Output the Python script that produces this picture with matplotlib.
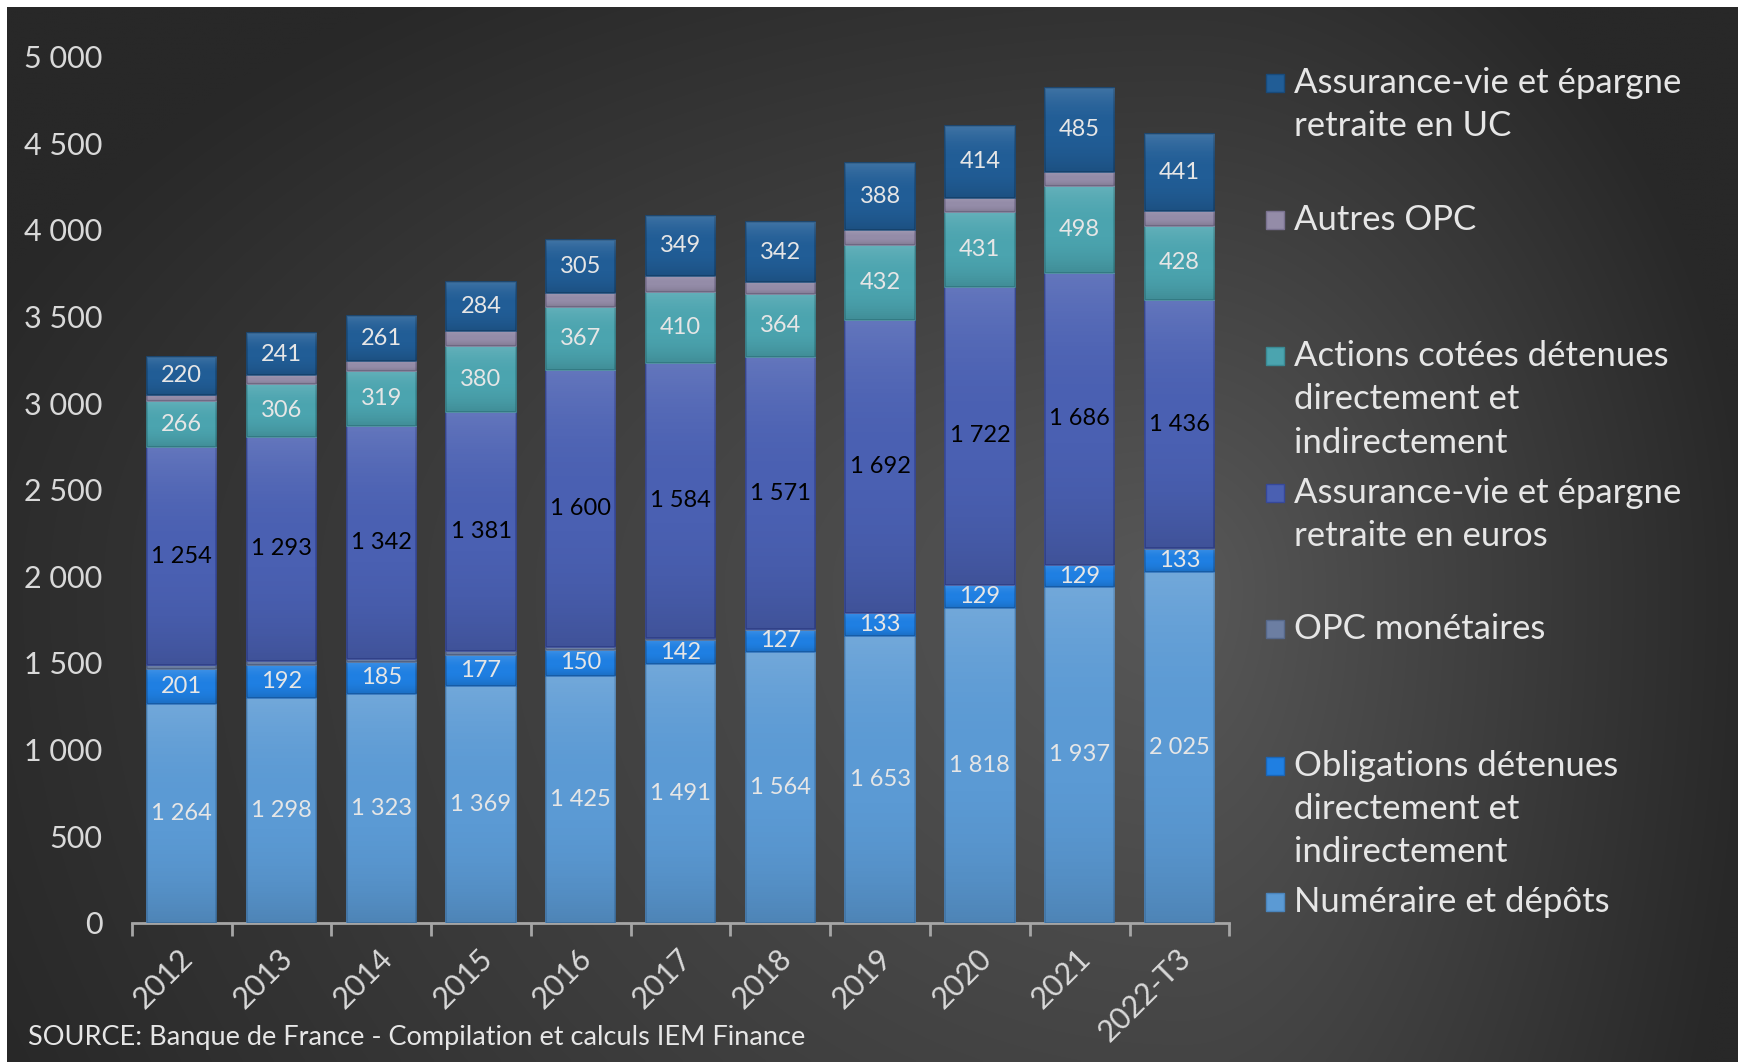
import numpy as np
import matplotlib.pyplot as plt
from matplotlib.patches import Rectangle
from matplotlib.transforms import ScaledTranslation

# data (milliards d'euros)
categories = ['2012', '2013', '2014', '2015', '2016', '2017', '2018', '2019', '2020', '2021', '2022-T3']
numeraire = [1264, 1298, 1323, 1369, 1425, 1491, 1564, 1653, 1818, 1937, 2025]
obligations = [201, 192, 185, 177, 150, 142, 127, 133, 129, 129, 133]
opc_monetaires = [25, 23, 15, 20, 14, 12, 4, 2, 3, 2, 3]
assurance_euros = [1254, 1293, 1342, 1381, 1600, 1584, 1571, 1692, 1722, 1686, 1436]
actions = [266, 306, 319, 380, 367, 410, 364, 432, 431, 498, 428]
autres_opc = [38, 50, 58, 88, 81, 95, 71, 85, 83, 83, 87]
assurance_uc = [220, 241, 261, 284, 305, 349, 342, 388, 414, 485, 441]

series_labels = ['Numéraire et dépôts',
                 'Obligations détenues\ndirectement et\nindirectement',
                 'OPC monétaires',
                 'Assurance-vie et épargne\nretraite en euros',
                 'Actions cotées détenues\ndirectement et\nindirectement',
                 'Autres OPC',
                 'Assurance-vie et épargne\nretraite en UC']
series = [numeraire, obligations, opc_monetaires, assurance_euros, actions, autres_opc, assurance_uc]
colors = ['#5b9ad4', '#1f7fe2', '#6c7ea2', '#4a60b2', '#4ba4af', '#948ca8', '#215d96']
edges = ['#4a84bb', '#1a66b8', '#56688a', '#36489a', '#3a8a94', '#7a7290', '#184a7a']
show_label = [True, True, False, True, True, False, True]
label_color = ['#e6e6e6', '#e6e6e6', None, '#000000', '#e6e6e6', None, '#e6e6e6']

W, H = 1738, 1062
plt.rcParams['font.family'] = ['Lato', 'DejaVu Sans']
fig = plt.figure(figsize=(W / 100, H / 100), dpi=100)
fig.patch.set_facecolor('white')

# dark background with soft radial light
bg = fig.add_axes([7 / W, 0, 1 - 7 / W, 1 - 7 / H])
gx, gy = np.meshgrid(np.linspace(0, 1, 500), np.linspace(0, 1, 300))
cx, cy = 0.68, 0.55
dx = np.where(gx < cx, (gx - cx) / 0.75, (gx - cx) / 0.33)
dy = np.where(gy < cy, (gy - cy) / 0.7, (gy - cy) / 1.1)
r = np.clip(np.sqrt(dx ** 2 + dy ** 2), 0, 1)
val = (0x28 + (0x58 - 0x28) * (1 - r)) / 255
bg.imshow(np.dstack([val, val, val]), aspect='auto', interpolation='bilinear')
bg.axis('off')

ax = fig.add_axes([131.8 / W, 1 - 922.7 / H, (1229.3 - 131.8) / W, (922.7 - 56.7) / H])
ax.set_facecolor('none')

# shading overlay for a soft bevel look: light at top, dark at bottom
shade = np.zeros((64, 1, 4))
t = np.linspace(0, 1, 64)
shade[:, 0, :3] = np.where(t < 0.5, 1.0, 0.0)[:, None]
shade[:, 0, 3] = np.where(t < 0.5, 0.14 * (1 - t / 0.5) ** 2, 0.14 * ((t - 0.5) / 0.5) ** 2)

x = np.arange(len(categories))
bottom = np.zeros(len(categories))
for vals, col, ec, show, lc in zip(series, colors, edges, show_label, label_color):
    vals = np.array(vals, dtype=float)
    bars = ax.bar(x, vals, 0.695, bottom=bottom, color=col, edgecolor=ec, linewidth=1.2, zorder=3)
    for p in bars:
        x0, y0 = p.get_x(), p.get_y()
        im = ax.imshow(shade, extent=[x0, x0 + p.get_width(), y0, y0 + p.get_height()],
                       aspect='auto', zorder=3.5, interpolation='bilinear')
        im.set_clip_path(p)
    if show:
        for xi, b, v in zip(x, bottom, vals):
            ax.text(xi, b + v / 2, f'{int(v):,}'.replace(',', ' '), ha='center', va='center',
                    fontsize=17, color=lc, zorder=4)
    bottom += vals

ax.set_xlim(-0.5, len(categories) - 0.5)
ax.set_ylim(0, 5000)
ax.set_yticks(np.arange(0, 5001, 500))
ax.set_yticklabels([f'{v:,}'.replace(',', ' ') for v in range(0, 5001, 500)])
ax.tick_params(axis='y', length=0, pad=21, labelsize=22, labelcolor='#d9d9d9')
for s in ['top', 'right', 'left']:
    ax.spines[s].set_visible(False)
ax.spines['bottom'].set_color('#a6a6a6')
ax.spines['bottom'].set_linewidth(2)

ax.set_xticks(x)
ax.set_xticklabels(categories, rotation=45, ha='right', va='top', rotation_mode='anchor')
ax.tick_params(axis='x', length=0, pad=15, labelsize=22, labelcolor='#d9d9d9')
ax.set_xticks(np.arange(-0.5, len(categories)), minor=True)
ax.tick_params(axis='x', which='minor', length=9, width=2, color='#a6a6a6', direction='out')
for lab in ax.get_xticklabels():
    lab.set_transform(lab.get_transform() + ScaledTranslation(-3 / 100, 0, fig.dpi_scale_trans))

# legend drawn by hand, top entry first
ys0, step, line_h = 83.1, 136.5, 43.2
for i, k in enumerate(range(len(series) - 1, -1, -1)):
    y_first = ys0 + i * step
    fig.add_artist(Rectangle((1266 / W, 1 - (y_first + 9) / H), 18 / W, 18 / H,
                             transform=fig.transFigure, facecolor=colors[k],
                             edgecolor=edges[k], linewidth=1))
    for j, line in enumerate(series_labels[k].split('\n')):
        fig.text(1294 / W, 1 - (y_first + j * line_h) / H, line, ha='left', va='center',
                 fontsize=25, color='#e6e6e6')

fig.text(27.7 / W, 1 - 1038 / H, 'SOURCE: Banque de France - Compilation et calculs IEM Finance',
         ha='left', va='center', fontsize=19.5, color='#e6e6e6')

fig.savefig('out.png', dpi=100)
